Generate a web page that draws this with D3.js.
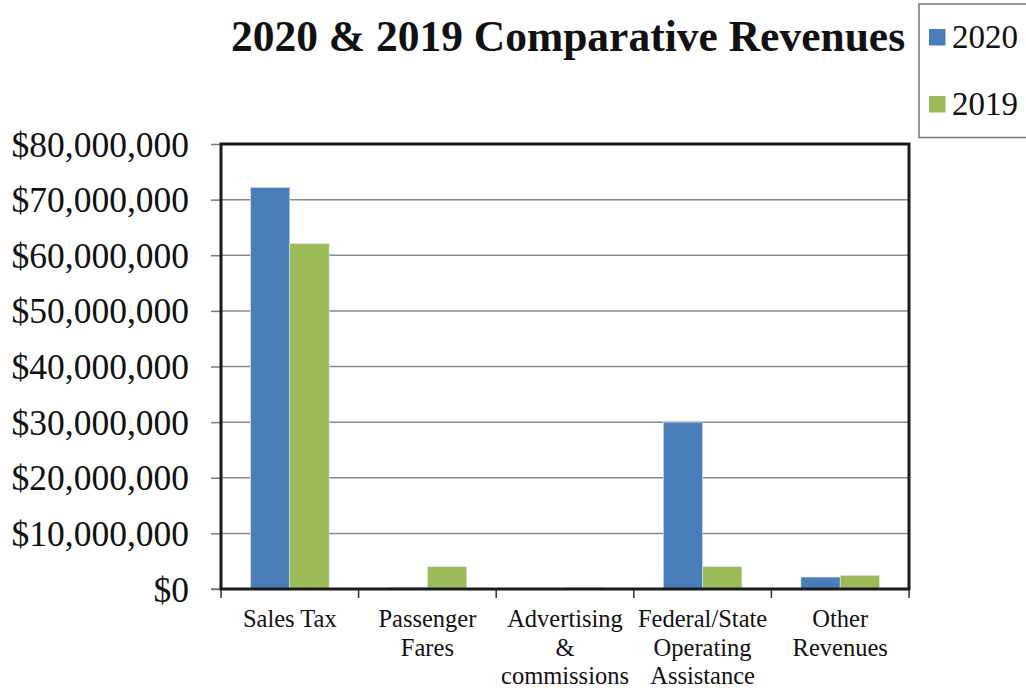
<!DOCTYPE html>
<html><head><meta charset="utf-8">
<script src="https://cdn.jsdelivr.net/npm/d3@7"></script>
<style>body{margin:0;background:#fff}svg{display:block}text{font-family:"Liberation Serif","Times New Roman",serif;fill:#111}</style>
</head><body>
<svg id="c" width="1026" height="691"></svg>
<script>
const categories = [["Sales Tax"],["Passenger","Fares"],["Advertising","&","commissions"],["Federal/State","Operating","Assistance"],["Other","Revenues"]];
const seriesNames = ["2020","2019"];
const values2020 = [72200000, 300000, 30000, 30000000, 2150000];
const values2019 = [62100000, 4000000, 300000, 4000000, 2450000];
const yTicks = [0,10000000,20000000,30000000,40000000,50000000,60000000,70000000,80000000];
const colors = ["#4a7ebb","#9bbb59"];

const svg = d3.select("#c");
const L=221, R=909, T=144, B=589;
const x0 = d3.scaleBand().domain(d3.range(categories.length)).range([L,R]);
const bw = x0.bandwidth();
const pad = bw*0.75/3.5;
const x1 = d3.scaleBand().domain(seriesNames).range([pad, bw-pad]);
const y = d3.scaleLinear().domain([0,80000000]).range([B,T]);

// gridlines
svg.append("g").selectAll("line").data(yTicks.slice(1,-1)).join("line")
  .attr("x1",L).attr("x2",R).attr("y1",d=>y(d)).attr("y2",d=>y(d))
  .attr("stroke","#8a8a8a").attr("stroke-width",1.5);

// y axis
const yAxis = d3.axisLeft(y).tickValues(yTicks).tickSize(10).tickPadding(22)
  .tickFormat(d=>"$"+d3.format(",")(d));
const gy = svg.append("g").attr("transform",`translate(${L},0)`).call(yAxis);
gy.select(".domain").remove();
gy.selectAll(".tick line").attr("stroke","#7a7a7a").attr("stroke-width",1.5);
gy.selectAll(".tick text").attr("font-size",35.5).attr("fill","#111").style("font-family",'"Liberation Serif",serif').attr("dy","0.34em");

// bars
const data = categories.map((c,i)=>({i, vals:[values2020[i],values2019[i]]}));
const groups = svg.append("g").selectAll("g").data(data).join("g")
  .attr("transform",d=>`translate(${x0(d.i)},0)`);
groups.selectAll("rect").data(d=>d.vals.map((v,k)=>({k,v}))).join("rect")
  .attr("x",d=>x1(seriesNames[d.k])).attr("width",x1.bandwidth())
  .attr("y",d=>y(d.v)).attr("height",d=>B-y(d.v))
  .attr("fill",d=>colors[d.k]).attr("stroke","#dfe8f3").attr("stroke-width",0.6);

// x axis ticks
const xTickPos = d3.range(categories.length+1).map(i=> i<categories.length ? x0(i) : R);
svg.append("g").selectAll("line").data(xTickPos).join("line")
  .attr("x1",d=>d).attr("x2",d=>d).attr("y1",B).attr("y2",B+9)
  .attr("stroke","#333").attr("stroke-width",1.5);
// x labels
const xl = svg.append("g").selectAll("text").data(categories).join("text")
  .attr("x",(d,i)=>x0(i)+bw/2).attr("y",627).attr("text-anchor","middle").attr("font-size",24.5);
xl.selectAll("tspan").data(d=>d).join("tspan")
  .attr("x",function(){return this.parentNode.getAttribute("x");})
  .attr("dy",(d,i)=>i===0?0:28.5).text(d=>d);

// frame
svg.append("line").attr("x1",211).attr("x2",L).attr("y1",B).attr("y2",B).attr("stroke","#7a7a7a").attr("stroke-width",1.5);
svg.append("rect").attr("x",L).attr("y",T).attr("width",R-L).attr("height",B-T)
  .attr("fill","none").attr("stroke","#1a1a1a").attr("stroke-width",3);

// title
svg.append("text").attr("x",568).attr("y",51).attr("text-anchor","middle")
  .attr("font-size",43.5).attr("font-weight","bold").text("2020 & 2019 Comparative Revenues");

// legend
const lg = svg.append("g");
lg.append("rect").attr("x",919).attr("y",4).attr("width",120).attr("height",133.5)
  .attr("fill","#fff").attr("stroke","#777").attr("stroke-width",1.5);
const li = lg.selectAll("g").data(seriesNames).join("g")
  .attr("transform",(d,i)=>`translate(929,${29+i*67})`);
li.append("rect").attr("width",16.5).attr("height",16.5).attr("fill",(d,i)=>colors[i]);
li.append("text").attr("x",23).attr("y",19).attr("font-size",33).text(d=>d);
</script>
</body></html>
